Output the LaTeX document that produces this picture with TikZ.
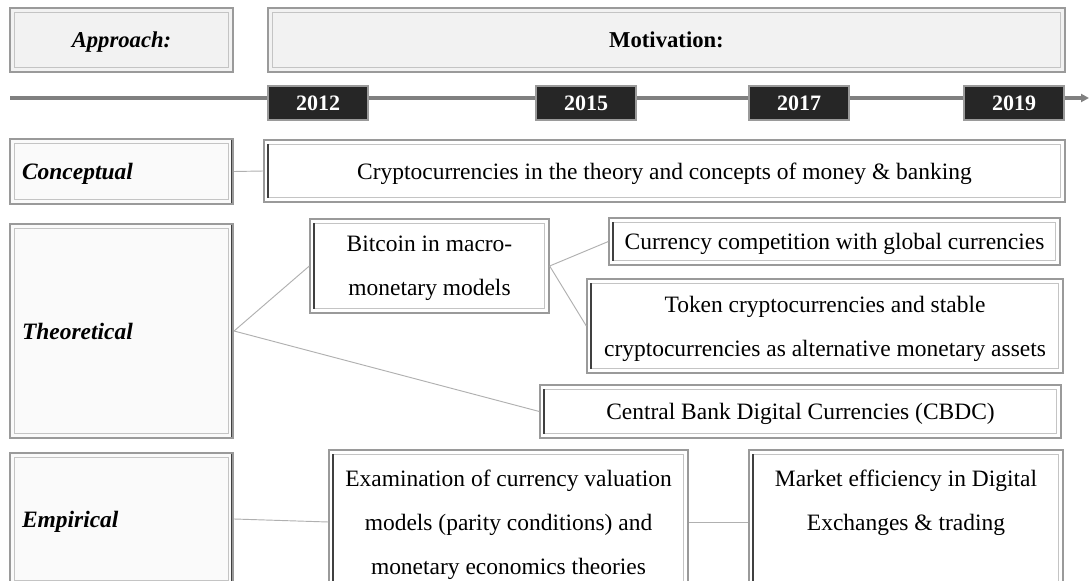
\documentclass[tikz,border=0pt]{standalone}
\usepackage{fontspec}
\setmainfont{Liberation Serif}
\usetikzlibrary{arrows.meta}

% place a box from its pixel corners: options, x1, y1, x2, y2, name, text
\newcommand\placebox[7]{%
  \node[#1, minimum width={(#4-#2)*0.75pt}, minimum height={(#5-#3)*0.75pt}]
    (#6) at ({(#2+#4)/2},{(#3+#5)/2}) {#7};}

\definecolor{headfill}{HTML}{F2F2F2}
\definecolor{catfill}{HTML}{FAFAFA}
\definecolor{yearfill}{HTML}{262626}
\definecolor{rim}{HTML}{9A9A9A}
\definecolor{rimlight}{HTML}{C4C4C4}
\definecolor{rimdark}{HTML}{404040}
\definecolor{wire}{HTML}{B0B0B0}
\definecolor{axis}{HTML}{808080}

\tikzset{
  txt/.style={font=\fontsize{17.6}{33}\selectfont},
  inner frame/.style={path picture={
      \draw[rimlight, line width=1pt]
        ([shift={(3.2pt,3.2pt)}]path picture bounding box.south west) rectangle
        ([shift={(-3.2pt,-3.2pt)}]path picture bounding box.north east);
      \draw[rimdark, line width=1.2pt]
        ([shift={(3.2pt,3.2pt)}]path picture bounding box.south west) --
        ([shift={(3.2pt,-3.2pt)}]path picture bounding box.north west);}},
  headbox/.style={draw=rim, line width=1.6pt, fill=headfill, inner sep=0pt,
      text depth=0pt, font=\fontsize{17}{20}\selectfont\bfseries,
      path picture={
      \draw[rimlight, line width=1pt]
        ([shift={(3.2pt,3.2pt)}]path picture bounding box.south west) rectangle
        ([shift={(-3.2pt,-3.2pt)}]path picture bounding box.north east);}},
  catbox/.style={draw=rim, line width=1.6pt, fill=catfill, inner xsep=9pt,
      text depth=0pt, align=left, font=\fontsize{17.6}{20}\selectfont\bfseries\itshape,
      path picture={
      \draw[rimlight, line width=1pt]
        ([shift={(3.2pt,3.2pt)}]path picture bounding box.south west) rectangle
        ([shift={(-3.2pt,-3.2pt)}]path picture bounding box.north east);
      \draw[rimdark, line width=2.6pt]
        (path picture bounding box.south east) --
        (path picture bounding box.north east);}},
  contentbox/.style={draw=rim, line width=1pt, fill=white, inner sep=0pt,
      text depth=0pt, align=center, txt, inner frame},
  yearbox/.style={draw=rim, line width=1pt, fill=yearfill, inner sep=0pt,
      text=white, font=\fontsize{16.5}{20}\selectfont\bfseries},
  wireline/.style={draw=wire, line width=0.7pt},
}

\begin{document}
\begin{tikzpicture}[x=0.75pt, y=-0.75pt]
\clip (0,0) rectangle (1090,581);
\fill[white] (0,0) rectangle (1090,581);

% header row
\placebox{headbox}{10}{8}{233}{72}{approach}{\itshape Approach:}
\placebox{headbox}{268}{8}{1065}{72}{motivation}{Motivation:}

% timeline
\coordinate (tlstart) at (10,98);
\coordinate (tlend) at (1089,98);
\draw[draw=axis, line width=2.4pt,
      -{Stealth[length=6pt, width=6pt, inset=0pt]}] (tlstart) -- (tlend);
\placebox{yearbox}{268}{86}{368}{120}{y2012}{2012}
\placebox{yearbox}{536}{86}{636}{120}{y2015}{2015}
\placebox{yearbox}{749}{86}{849}{120}{y2017}{2017}
\placebox{yearbox}{964}{86}{1064}{120}{y2019}{2019}

% approach categories
\placebox{catbox, text width=149.25pt}{10}{139}{233}{204}{conceptual}{Conceptual}
\placebox{catbox, text width=149.25pt}{10}{224}{233}{438}{theoretical}{Theoretical}
\placebox{catbox, text width=149.25pt}{10}{453}{233}{585}{empirical}{Empirical}

% conceptual row
\placebox{contentbox}{264}{140}{1065}{202}{money}{Cryptocurrencies in the theory and concepts of money \& banking}

% theoretical row
\placebox{contentbox}{310}{219}{549}{313}{bitcoin}{Bitcoin in macro-\\monetary models}
\placebox{contentbox}{609}{218}{1060}{265}{competition}{Currency competition with global currencies}
\placebox{contentbox}{587}{279}{1063}{373}{token}{Token cryptocurrencies and stable\\cryptocurrencies as alternative monetary assets}
\placebox{contentbox}{540}{385}{1061}{438}{cbdc}{Central Bank Digital Currencies (CBDC)}

% empirical row
\placebox{contentbox}{329}{450}{688}{594}{valuation}{Examination of currency valuation\\models (parity conditions) and\\monetary economics theories}
\placebox{contentbox}{749}{450}{1063}{594}{efficiency}{Market efficiency in Digital\\Exchanges \& trading\\\mbox{}}

% connectors
\draw[wireline] (conceptual.east) -- (money.west);
\draw[wireline] (theoretical.east) -- (bitcoin.west);
\draw[wireline] (theoretical.east) -- (cbdc.west);
\draw[wireline] (bitcoin.east) -- (competition.west);
\draw[wireline] (bitcoin.east) -- (token.west);
\draw[wireline] (empirical.east) -- (valuation.west);
\draw[wireline] (valuation.east) -- (efficiency.west);
\end{tikzpicture}
\end{document}
